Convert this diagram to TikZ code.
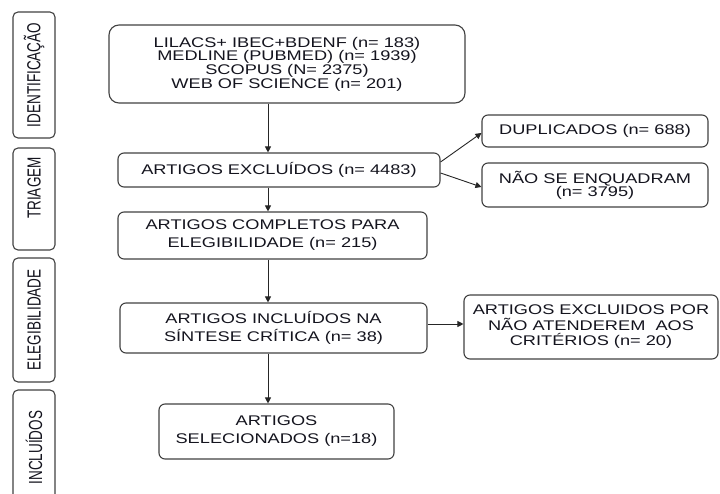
\documentclass[tikz,border=0pt]{standalone}
\usepackage{graphicx}
\usepackage{fontspec}
\setmainfont{Liberation Sans}[FakeStretch=1.3]
\newfontfamily\plainfont{Liberation Sans}
\usetikzlibrary{arrows.meta}
\definecolor{txt}{RGB}{20,20,30}
\definecolor{edgec}{RGB}{65,65,65}
\newcommand\sidetxt[1]{\scalebox{1}[1.4]{\plainfont\fontsize{13.5}{16}\selectfont #1}}
\tikzset{
  box/.style={draw=edgec, line width=1.1pt, rounded corners=6pt, fill=white, inner sep=0pt, align=center, text=txt},
  sidebox/.style={box, rotate=90, rounded corners=5pt},
  arr/.style={draw=black!85, line width=0.9pt, -{Triangle[length=6pt,width=6pt]}},
}
\begin{document}
\begin{tikzpicture}[x=1pt,y=-1pt]
\useasboundingbox (0,0) rectangle (720,494);
\clip (0,0) rectangle (720,494);
\fill[white] (0,0) rectangle (720,494);

% side stage labels
\node[sidebox, minimum width=126pt, minimum height=42pt] (s1) at (34,75) {\sidetxt{IDENTIFICAÇÃO}};
\node[sidebox, minimum width=102pt, minimum height=42pt] (s2) at (34,199) {\hspace*{22pt}\sidetxt{TRIAGEM}};
\node[sidebox, minimum width=124pt, minimum height=42pt] (s3) at (34,320) {\sidetxt{ELEGIBILIDADE}};
\node[sidebox, minimum width=115pt, minimum height=42pt] (s4) at (34,447.5) {\sidetxt{INCLUÍDOS}};

% main boxes
\node[box, rounded corners=10pt, minimum width=356pt, minimum height=78pt, font=\fontsize{14}{13.6}\selectfont] (top) at (287,64)
  {LILACS+ IBEC+BDENF (n= 183)\\MEDLINE (PUBMED) (n= 1939)\\SCOPUS (N= 2375)\\WEB OF SCIENCE (n= 201)};
\node[box, minimum width=322pt, minimum height=34pt, font=\fontsize{14}{16}\selectfont] (excl) at (279,170)
  {ARTIGOS EXCLUÍDOS (n= 4483)};
\node[box, minimum width=309pt, minimum height=47pt, font=\fontsize{14}{18}\selectfont] (comp) at (272.5,235.5)
  {ARTIGOS COMPLETOS PARA\\ELEGIBILIDADE (n= 215)};
\node[box, minimum width=307pt, minimum height=50pt, font=\fontsize{14}{17.7}\selectfont] (incl) at (273.5,328)
  {ARTIGOS INCLUÍDOS NA\\SÍNTESE CRÍTICA (n= 38)};
\node[box, minimum width=254pt, minimum height=64pt, font=\fontsize{14}{15.5}\selectfont] (expor) at (591,327)
  {ARTIGOS EXCLUIDOS POR\\NÃO ATENDEREM\ \ AOS\\CRITÉRIOS (n= 20)};
\node[box, minimum width=235pt, minimum height=55pt, font=\fontsize{14}{18}\selectfont] (sel) at (276.5,431.5)
  {ARTIGOS\\SELECIONADOS (n=18)};
\node[box, minimum width=226pt, minimum height=32pt, font=\fontsize{14}{16}\selectfont] (dup) at (595,131)
  {DUPLICADOS (n= 688)};
\node[box, minimum width=226pt, minimum height=44pt, font=\fontsize{14}{13.2}\selectfont] (nse) at (595,185)
  {NÃO SE ENQUADRAM\\(n= 3795)};

% connectors
\coordinate (spine) at (268,0);
\draw[arr] (top.south -| spine) -- (excl.north -| spine);
\draw[arr] (excl.south -| spine) -- (comp.north -| spine);
\draw[arr] (comp.south -| spine) -- (incl.north -| spine);
\draw[arr] (incl.south -| spine) -- (sel.north -| spine);
\draw[arr] ([yshift=8pt]excl.east) -- ([yshift=-2pt]dup.west);
\draw[arr] ([yshift=-3pt]excl.east) -- ([yshift=-2pt]nse.west);
\draw[arr] ([yshift=4pt]incl.east) -- ([yshift=4pt]incl.east -| expor.west);
\end{tikzpicture}
\end{document}
